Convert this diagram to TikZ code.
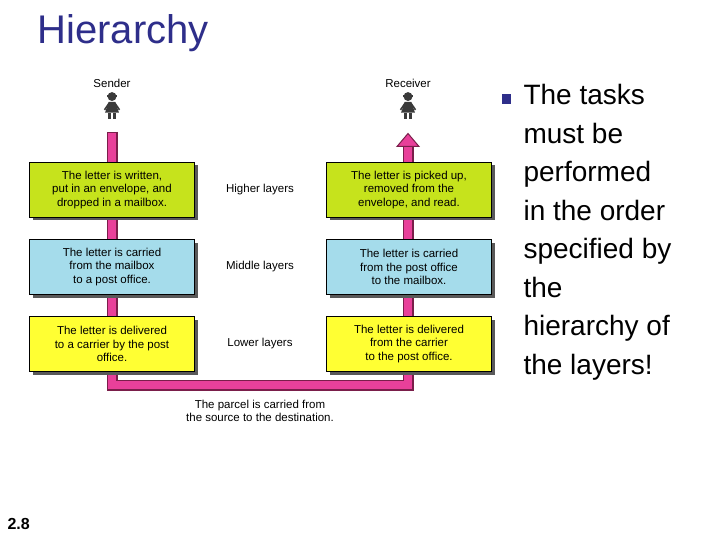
\documentclass[tikz,border=0pt]{standalone}
\usepackage{fontspec}
\setmainfont{Liberation Sans}
\usetikzlibrary{shadows,shapes.geometric}
\definecolor{navy}{HTML}{2E2E8A}
\definecolor{pinkc}{HTML}{E8409A}
\definecolor{pinkd}{HTML}{7A1E4A}
\definecolor{greenc}{HTML}{C6E31C}
\definecolor{bluec}{HTML}{A5DCEB}
\definecolor{yellowc}{HTML}{FFFF33}
\definecolor{figc}{HTML}{3A3A3A}
\begin{document}
\begin{tikzpicture}[x=1pt,y=-1pt,
  layer/.style={draw=black,line width=0.8pt,minimum width=165pt,minimum height=55pt,align=center,font=\fontsize{11.5}{13.5}\selectfont,inner sep=2pt,
    drop shadow={shadow xshift=3pt,shadow yshift=-3pt,fill=black!65,opacity=1}},
  lab/.style={font=\fontsize{11.5}{13.5}\selectfont,align=center},
  pipeo/.style={line width=11pt,draw=pinkd},
  pipei/.style={line width=8pt,draw=pinkc}]
\useasboundingbox (0,0) rectangle (720,540);
\node[anchor=west,text=navy,font=\fontsize{40}{44}\selectfont] (title) at (34,33) {Hierarchy};
\node[anchor=west,font=\bfseries\fontsize{16}{18}\selectfont] (num) at (4,524) {2.8};
% pipe
\coordinate (ls) at (112,132);
\coordinate (lb) at (112,385);
\coordinate (rb) at (408,385);
\coordinate (rt) at (408,146);
\draw[pipeo,line join=miter] (ls) -- (lb) -- (rb) -- (rt);
\draw[pipei,line join=miter] ([yshift=-1.5pt]ls) -- (lb) -- (rb) -- (rt);
\node[fill=pinkc,draw=pinkd,line width=1pt,isosceles triangle,shape border rotate=90,isosceles triangle stretches,minimum width=22pt,minimum height=13pt,inner sep=0pt,anchor=south] (head) at (408,147) {};
% boxes
\node[layer,fill=greenc] (l1) at (112,190) {The letter is written,\\ put in an envelope, and\\ dropped in a mailbox.};
\node[layer,fill=bluec] (l2) at (112,267) {The letter is carried\\ from the mailbox\\ to a post office.};
\node[layer,fill=yellowc] (l3) at (112,344) {The letter is delivered\\ to a carrier by the post\\ office.};
\node[layer,fill=greenc] (r1) at (409,190) {The letter is picked up,\\ removed from the\\ envelope, and read.};
\node[layer,fill=bluec] (r2) at (409,267) {The letter is carried\\ from the post office\\ to the mailbox.};
\node[layer,fill=yellowc] (r3) at (409,344) {The letter is delivered\\ from the carrier\\ to the post office.};
\node[lab] (m1) at (260,190) {Higher layers};
\node[lab] (m2) at (260,267) {Middle layers};
\node[lab] (m3) at (260,344) {Lower layers};
\node[lab] (parcel) at (260,411) {The parcel is carried from\\ the source to the destination.};
\node[lab] (snd) at (112,83) {Sender};
\node[lab] (rcv) at (408,83) {Receiver};
% figures
\foreach \x/\n in {112/fs,408/fr}{
  \begin{scope}[shift={(\x,106)},scale=1.35]
  \fill[figc] (0,-7) circle (3.3pt);
  \fill[figc] (-3.8,-8.3) rectangle (3.8,-6.6);
  \fill[figc] (-2.3,-3) -- (2.3,-3) -- (5.2,5) -- (-5.2,5) -- cycle;
  \fill[figc] (-2.3,-3) -- (-6,2.5) -- (-5.2,3.3) -- (-1.5,-1.5) -- cycle;
  \fill[figc] (2.3,-3) -- (6,2.5) -- (5.2,3.3) -- (1.5,-1.5) -- cycle;
  \fill[figc] (-2.6,5) rectangle (-0.7,9.5);
  \fill[figc] (0.7,5) rectangle (2.6,9.5);
  \end{scope}
  \coordinate (\n) at (\x,106);
}
% bullet
\fill[navy] (502,94) rectangle (511,104);
\node[anchor=north west,align=left,font=\fontsize{28}{38.5}\selectfont] (txt) at (520,81) {The tasks\\ must be\\ performed\\ in the order\\ specified by\\ the\\ hierarchy of\\ the layers!};
\end{tikzpicture}
\end{document}
